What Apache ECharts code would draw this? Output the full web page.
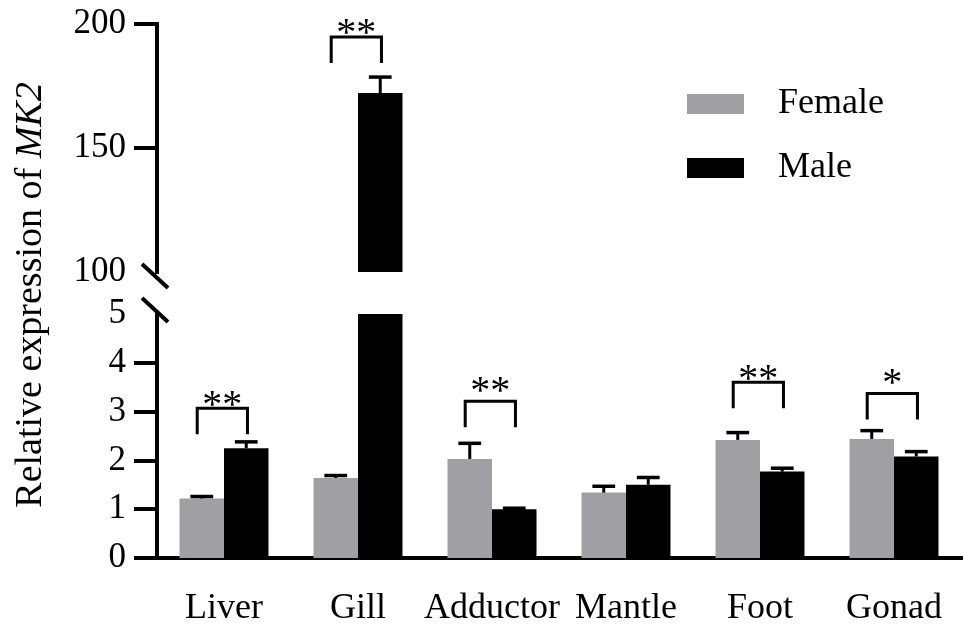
<!DOCTYPE html>
<html>
<head>
<meta charset="utf-8">
<script src="https://cdn.jsdelivr.net/npm/echarts@6/dist/echarts.min.js"></script>
<style>
  html, body { margin: 0; padding: 0; background: #fff; }
  #chart { width: 964px; height: 627px; }
</style>
</head>
<body>
<div id="chart"></div>
<script>
// Tissues and relative MK2 expression (mean and SD) by sex
const categories = ['Liver', 'Gill', 'Adductor', 'Mantle', 'Foot', 'Gonad'];
const femaleMean = [1.22, 1.64, 2.03, 1.34, 2.42, 2.44];
const femaleSD   = [0.04, 0.05, 0.32, 0.13, 0.15, 0.17];
const maleMean   = [2.25, 172.2, 1.00, 1.50, 1.77, 2.08];
const maleSD     = [0.13, 6.4, 0.02, 0.15, 0.07, 0.10];

// Significance marks: bracket height and star height in data units
const sigMarks   = ['**', '**', '**', '', '**', '*'];
const sigLevel   = [3.07, 194.8, 3.21, null, 3.60, 3.37];
const starLevel  = [3.27, 198.8, 3.56, null, 3.80, 3.72];

// Broken y axis: upper and lower segments
const upperRange = [100, 200];
const lowerRange = [0, 5];
const upperTickLabels = [100, 150, 200];
const upperTickMarks  = [150, 200];
const lowerTickLabels = [0, 1, 2, 3, 4, 5];
const lowerTickMarks  = [0, 1, 2, 3, 4];

const FONT = '"Times New Roman", "Liberation Serif", "DejaVu Serif", serif';
const GREY = '#a0a0a4';

const inRange = (v, r) => v != null && v >= r[0] && v <= r[1];
const within = (v, r) => (v != null && v >= r[0]) ? v : null;

function errorData(mean, sd, range) {
  return mean.map((m, i) => [i, m, m + sd[i]]).filter(d => inRange(d[1], range));
}
function sigData(range) {
  const out = [];
  sigLevel.forEach((lv, i) => { if (inRange(lv, range)) out.push([i, lv, starLevel[i]]); });
  return out;
}

// Error bar: vertical stem from the bar top plus a cap
function errorRenderer(side) {
  return function (params, api) {
    const c = api.value(0);
    const band = api.size([1, 0])[0];
    const p0 = api.coord([c, api.value(1)]);
    const p1 = api.coord([c, api.value(2)]);
    const x = p0[0] + side * band * 0.166;
    const cap = band * 0.085;
    return {
      type: 'group',
      children: [
        { type: 'line', shape: { x1: x, y1: p0[1], x2: x, y2: p1[1] }, style: { stroke: '#000', lineWidth: 3 } },
        { type: 'line', shape: { x1: x - cap, y1: p1[1], x2: x + cap, y2: p1[1] }, style: { stroke: '#000', lineWidth: 3.5 } }
      ]
    };
  };
}

// Significance bracket with stars above it
function sigRenderer(params, api) {
  const c = api.value(0);
  const band = api.size([1, 0])[0];
  const p = api.coord([c, api.value(1)]);
  const s = api.coord([c, api.value(2)]);
  const xl = p[0] - band * 0.2;
  const xr = p[0] + band * 0.175;
  const leg = 26;
  return {
    type: 'group',
    children: [
      { type: 'polyline', shape: { points: [[xl, p[1] + leg], [xl, p[1]], [xr, p[1]], [xr, p[1] + leg]] },
        style: { stroke: '#000', lineWidth: 3, fill: null } },
      { type: 'text', x: (xl + xr) / 2, y: s[1] + 8,
        style: { text: sigMarks[c], fontFamily: FONT, fontSize: 40, fill: '#000', align: 'center', verticalAlign: 'middle' } }
    ]
  };
}

const axisLineStyle = { color: '#000', width: 4, cap: 'square' };
const labelStyle = { color: '#000', fontFamily: FONT, fontSize: 35 };

const chart = echarts.init(document.getElementById('chart'), null, { renderer: 'canvas' });

const option = {
  animation: false,
  backgroundColor: '#fff',
  textStyle: { fontFamily: FONT },
  grid: [
    { left: 157, right: 3, top: 24, height: 248 },
    { left: 157, right: 3, top: 314, height: 246 }
  ],
  xAxis: [
    { type: 'category', gridIndex: 0, data: categories, show: false },
    { type: 'category', gridIndex: 1, data: categories,
      axisLine: { lineStyle: axisLineStyle },
      axisTick: { alignWithLabel: true, length: 21, lineStyle: { color: '#000', width: 4 } },
      axisLabel: { color: '#000', fontFamily: FONT, fontSize: 36, margin: 33, interval: 0 } }
  ],
  yAxis: [
    { type: 'value', gridIndex: 0, min: upperRange[0], max: upperRange[1], interval: 50,
      splitLine: { show: false },
      axisLine: { show: true, lineStyle: axisLineStyle },
      axisTick: { show: true, length: 23, customValues: upperTickMarks, lineStyle: { color: '#000', width: 4 } },
      axisLabel: Object.assign({ margin: 31, customValues: upperTickLabels }, labelStyle) },
    { type: 'value', gridIndex: 1, min: lowerRange[0], max: lowerRange[1], interval: 1,
      splitLine: { show: false },
      axisLine: { show: true, lineStyle: axisLineStyle },
      axisTick: { show: true, length: 23, customValues: lowerTickMarks, lineStyle: { color: '#000', width: 4 } },
      axisLabel: Object.assign({ margin: 31, customValues: lowerTickLabels }, labelStyle) }
  ],
  legend: {
    data: ['Female', 'Male'],
    orient: 'vertical',
    left: 682, top: 81,
    itemWidth: 57, itemHeight: 20, itemGap: 28,
    icon: 'rect',
    textStyle: { color: '#000', fontFamily: FONT, fontSize: 36, padding: [0, 0, 0, 29] }
  },
  series: [
    { name: 'Female', type: 'bar', xAxisIndex: 1, yAxisIndex: 1, data: femaleMean,
      barWidth: '33.2%', barGap: '0%', itemStyle: { color: GREY }, clip: true },
    { name: 'Male', type: 'bar', xAxisIndex: 1, yAxisIndex: 1, data: maleMean,
      barWidth: '33.2%', barGap: '0%', itemStyle: { color: '#000' }, clip: true },
    { name: 'Female', type: 'bar', xAxisIndex: 0, yAxisIndex: 0, data: femaleMean.map(v => within(v, upperRange)),
      barWidth: '33.2%', barGap: '0%', itemStyle: { color: GREY }, clip: true },
    { name: 'Male', type: 'bar', xAxisIndex: 0, yAxisIndex: 0, data: maleMean.map(v => within(v, upperRange)),
      barWidth: '33.2%', barGap: '0%', itemStyle: { color: '#000' }, clip: true },
    { name: 'errF-low', type: 'custom', xAxisIndex: 1, yAxisIndex: 1, renderItem: errorRenderer(-1),
      data: errorData(femaleMean, femaleSD, lowerRange), z: 3 },
    { name: 'errM-low', type: 'custom', xAxisIndex: 1, yAxisIndex: 1, renderItem: errorRenderer(1),
      data: errorData(maleMean, maleSD, lowerRange), z: 3 },
    { name: 'errF-up', type: 'custom', xAxisIndex: 0, yAxisIndex: 0, renderItem: errorRenderer(-1),
      data: errorData(femaleMean, femaleSD, upperRange), z: 3 },
    { name: 'errM-up', type: 'custom', xAxisIndex: 0, yAxisIndex: 0, renderItem: errorRenderer(1),
      data: errorData(maleMean, maleSD, upperRange), z: 3 },
    { name: 'sig-low', type: 'custom', xAxisIndex: 1, yAxisIndex: 1, renderItem: sigRenderer,
      data: sigData(lowerRange), z: 4, clip: false },
    { name: 'sig-up', type: 'custom', xAxisIndex: 0, yAxisIndex: 0, renderItem: sigRenderer,
      data: sigData(upperRange), z: 4, clip: false }
  ]
};
chart.setOption(option);

// Axis title and break marks, placed from the axis geometry
const gridUpper = chart.getModel().getComponent('grid', 0).coordinateSystem.getRect();
const gridLower = chart.getModel().getComponent('grid', 1).coordinateSystem.getRect();
const yUpperBottom = chart.convertToPixel({ yAxisIndex: 0 }, upperRange[0]);
const yLowerTop = chart.convertToPixel({ yAxisIndex: 1 }, lowerRange[1]);
const ax = gridLower.x - 2;
const slash = (cy) => ({
  type: 'line',
  shape: { x1: ax - 13, y1: cy - 12, x2: ax + 13, y2: cy + 12 },
  style: { stroke: '#000', lineWidth: 4 }
});
const midY = (gridUpper.y + gridLower.y + gridLower.height) / 2 + 4;

chart.setOption({
  graphic: [
    slash(yUpperBottom + 4),
    slash(yLowerTop - 4),
    {
      type: 'text', x: 31, y: midY, rotation: Math.PI / 2,
      style: {
        text: 'Relative expression of {i|MK2}',
        fontFamily: FONT, fontSize: 38, fill: '#000',
        align: 'center', verticalAlign: 'middle',
        rich: { i: { fontFamily: FONT, fontSize: 38, fontStyle: 'italic', fill: '#000' } }
      }
    }
  ]
});
</script>
</body>
</html>
